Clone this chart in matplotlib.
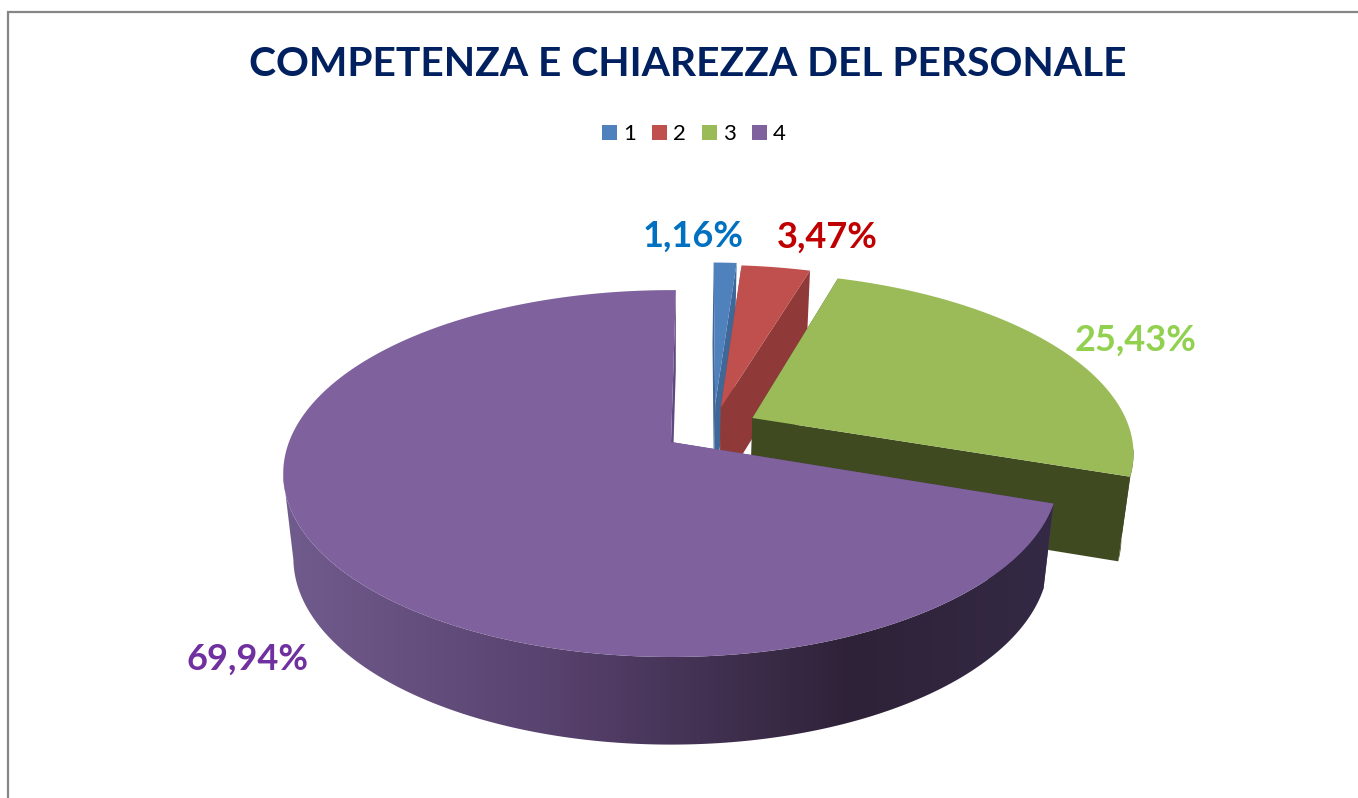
import matplotlib
matplotlib.use("Agg")
import matplotlib.pyplot as plt
import numpy as np
from matplotlib.colors import to_rgb
from matplotlib.patches import Patch, Polygon

plt.rcParams['font.family'] = ['Lato', 'DejaVu Sans']

title = "COMPETENZA E CHIAREZZA DEL PERSONALE"
categories = ["1", "2", "3", "4"]
values = [1.16, 3.47, 25.43, 69.94]

top_colors = ["#4f81bd", "#c0504d", "#9bbb59", "#7f619e"]
side_colors = ["#3f6797", "#8f3a38", "#3f4a20", "#5f4880"]
label_colors = ["#0070c0", "#c00000", "#92d050", "#7030a0"]
label_pos = [(693, 236), (827, 237), (1136, 340), (247, 659)]
# slice offsets on the pie's own disk (sideways, towards the viewer)
offsets = [(0.12, -0.22), (0.135, -0.20), (0.218, -0.138), (0.0, 0.0)]

# projection of the tilted disk onto the picture, in pixels
CX, CY = 671, 442
K = 0.172
DEPTH = 84
START = 0.015


def top_face(u, v):
    d = 1 - K * v
    return CX + 382 * u / d, CY + 178 * v / d


def bottom_face(u, v):
    d = 1 - K * v
    return CX + 372 * u / d, CY + DEPTH + 181 * v / d


fig = plt.figure(figsize=(13.58, 7.98), dpi=100)
ax = fig.add_axes([0, 0, 1, 1])
ax.axis("off")

ax.plot([8, 8, 1358], [798, 12, 12], color="#868686", lw=1.6, solid_joinstyle="miter")

ax.text(688, 64, title, color="#002060", fontsize=29.3, fontweight="bold", ha="center", va="center")

# shading of the big slice's outer wall, dark towards the lower right
grad_x = np.linspace(280, 1060, 400)
grad_cols = np.array([to_rgb(c) for c in ["#705b8d", "#57416d", "#2e2238", "#342944"]])
grad = np.stack([np.interp(grad_x, [290, 560, 850, 1040], grad_cols[:, i]) for i in range(3)], axis=1)[None, :, :]

# slices go clockwise from twelve o'clock, back ones first
edges = START + np.cumsum([0] + values) / sum(values) * 2 * np.pi
z = 2
for i in range(len(values)):
    u0, v0 = offsets[i]
    t = np.linspace(edges[i], edges[i + 1], max(8, int(values[i] * 6)))
    u = u0 + np.sin(t)
    v = v0 - np.cos(t)
    tx, ty = top_face(u, v)
    bx, by = bottom_face(u, v)
    ax0, ay0 = top_face(u0, v0)
    bx0, by0 = bottom_face(u0, v0)

    # cut faces
    ax.fill([ax0, tx[0], bx[0], bx0], [ay0, ty[0], by[0], by0], color=side_colors[i], lw=0, zorder=z)
    ax.fill([ax0, tx[-1], bx[-1], bx0], [ay0, ty[-1], by[-1], by0], color=side_colors[i], lw=0, zorder=z)

    # outer wall, only the part turned to the viewer (ends at the silhouette)
    front = np.cos(t) < -K
    if front.sum() > 1:
        xs = np.r_[tx[front], bx[front][::-1]]
        ys = np.r_[ty[front], by[front][::-1]]
        if i == 3:
            im = ax.imshow(grad, extent=(280, 1060, 750, 440), aspect="auto", zorder=z + 1)
            im.set_clip_path(Polygon(np.c_[xs, ys], transform=ax.transData))
        else:
            ax.fill(xs, ys, color=side_colors[i], lw=0, zorder=z + 1)

    ax.fill(np.r_[ax0, tx], np.r_[ay0, ty], color=top_colors[i], lw=0, zorder=z + 2)
    z += 3

    text = f"{values[i]:.2f}%".replace(".", ",")
    ax.text(label_pos[i][0], label_pos[i][1], text, color=label_colors[i], fontsize=26,
            fontweight="bold", ha="center", va="center", zorder=30)

ax.set_xlim(0, 1358)
ax.set_ylim(798, 0)

handles = [Patch(facecolor=c, edgecolor="none") for c in top_colors]
ax.legend(handles, categories, loc="center", bbox_to_anchor=(694 / 1358, 1 - 134 / 798), ncol=4,
          frameon=False, fontsize=16, handlelength=0.68, handleheight=0.68,
          handletextpad=0.27, columnspacing=0.71)

plt.savefig("out.png", dpi=100)
